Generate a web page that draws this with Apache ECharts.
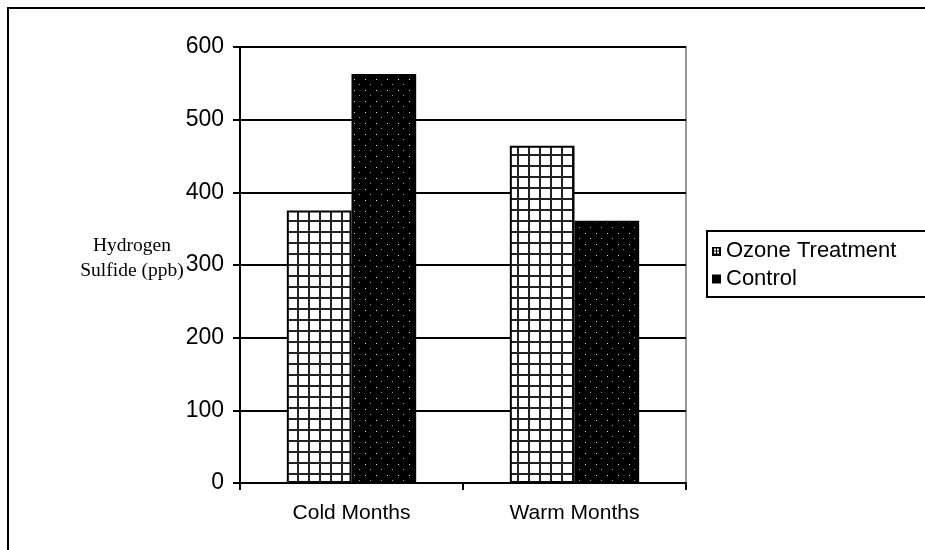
<!DOCTYPE html>
<html>
<head>
<meta charset="utf-8">
<script src="https://cdn.jsdelivr.net/npm/echarts@6/dist/echarts.min.js"></script>
<style>
  html, body { margin: 0; padding: 0; background: #fff; }
  #chart { width: 925px; height: 550px; }
</style>
</head>
<body>
<div id="chart"></div>
<script>
// Hydrogen sulfide concentration by season
const categories = ['Cold Months', 'Warm Months'];
const ozoneValues = [375, 464];
const controlValues = [563, 361];
const seriesNames = ['Ozone Treatment', 'Control'];
const yTicks = [0, 100, 200, 300, 400, 500, 600];

// Fill pattern: white with a fine dark grid
function gridPattern() {
  const c = document.createElement('canvas');
  c.width = 11; c.height = 11;
  const g = c.getContext('2d');
  g.fillStyle = '#fff';
  g.fillRect(0, 0, 11, 11);
  g.fillStyle = '#222';
  g.fillRect(0, 0, 2, 11);
  g.fillRect(0, 0, 11, 2);
  return c;
}
// Fill pattern: black with sparse light dots
function dotPattern() {
  const c = document.createElement('canvas');
  c.width = 11; c.height = 11;
  const g = c.getContext('2d');
  g.fillStyle = '#000';
  g.fillRect(0, 0, 11, 11);
  g.fillStyle = '#e0e0e0';
  g.fillRect(2, 2, 1, 1);
  g.fillStyle = '#999';
  g.fillRect(7, 7, 1, 1);
  return c;
}
// Small legend swatch: square with a cross
function gridIcon() {
  const c = document.createElement('canvas');
  c.width = 9; c.height = 9;
  const g = c.getContext('2d');
  g.fillStyle = '#000';
  g.fillRect(0, 0, 9, 9);
  g.fillStyle = '#fff';
  g.fillRect(2, 2, 2, 2); g.fillRect(5, 2, 2, 2);
  g.fillRect(2, 5, 2, 2); g.fillRect(5, 5, 2, 2);
  return c;
}

const chart = echarts.init(document.getElementById('chart'), null, { renderer: 'canvas' });

chart.setOption({
  backgroundColor: '#fff',
  animation: false,
  grid: { left: 240, top: 47, width: 446, height: 436, containLabel: false,
          show: true, borderColor: '#999', borderWidth: 2, backgroundColor: 'transparent' },
  legend: {
    left: 707, top: 235,
    orient: 'vertical',
    itemWidth: 9, itemHeight: 9, itemGap: 6,
    textStyle: { fontFamily: 'Liberation Sans, Arial', fontSize: 22, color: '#000', padding: [0, 0, 0, 0] },
    data: [
      { name: seriesNames[0], icon: 'image://' + gridIcon().toDataURL() },
      { name: seriesNames[1], icon: 'rect', itemStyle: { color: '#000', borderWidth: 0 } }
    ]
  },
  xAxis: {
    type: 'category',
    data: categories,
    axisLine: { lineStyle: { color: '#000', width: 2 } },
    axisTick: { show: true, length: 7, lineStyle: { color: '#000', width: 2 } },
    axisLabel: { fontFamily: 'Liberation Sans, Arial', fontSize: 21, color: '#000', margin: 20 }
  },
  yAxis: {
    type: 'value',
    min: 0, max: 600, interval: 100,
    axisLine: { show: true, lineStyle: { color: '#000', width: 2 } },
    axisTick: { show: true, length: 7, lineStyle: { color: '#000', width: 2 } },
    splitLine: { lineStyle: { color: '#000', width: 2 } },
    axisLabel: { fontFamily: 'Liberation Sans, Arial', fontSize: 23, color: '#000', margin: 16,
                 formatter: v => yTicks.includes(v) ? String(v) : '' }
  },
  series: [
    {
      name: seriesNames[0], type: 'bar', data: ozoneValues,
      barGap: '0%', barCategoryGap: '42%',
      itemStyle: { color: { image: gridPattern(), repeat: 'repeat' }, borderColor: '#000', borderWidth: 2 }
    },
    {
      name: seriesNames[1], type: 'bar', data: controlValues,
      itemStyle: { color: { image: dotPattern(), repeat: 'repeat' }, borderColor: '#000', borderWidth: 2 }
    }
  ],
  graphic: [
    { type: 'rect', shape: { x: 8, y: 8, width: 1000, height: 1000 }, z: 100,
      style: { fill: 'none', stroke: '#000', lineWidth: 2 } },
    { type: 'rect', shape: { x: 707, y: 231, width: 300, height: 66 }, z: 100,
      style: { fill: 'none', stroke: '#000', lineWidth: 2 } },
    { type: 'text', z: 100,
      style: { x: 132, y: 233, text: 'Hydrogen\nSulfide (ppb)', textAlign: 'center', lineHeight: 25,
               fontFamily: 'Liberation Serif, Times New Roman', fontSize: 19.5, fill: '#000' } }
  ]
});
</script>
</body>
</html>
